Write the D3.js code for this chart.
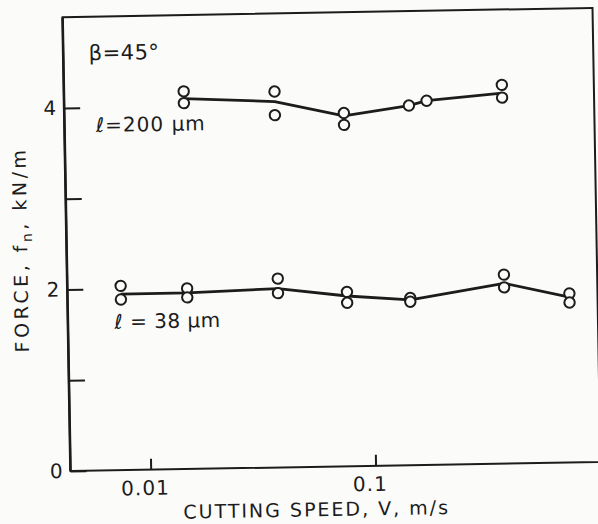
<!DOCTYPE html>
<html>
<head>
<meta charset="utf-8">
<script src="https://cdn.jsdelivr.net/npm/d3@7"></script>
<style>
  html, body { margin: 0; padding: 0; background: #fbfbfa; }
  svg { display: block; }
  text { font-family: "DejaVu Sans", sans-serif; fill: #1c1c1c; }
</style>
</head>
<body>
<svg id="chart" width="598" height="524"></svg>
<script>
// Cutting speed (m/s) and normal force (kN/m), tool rake angle beta = 45 deg
const speedsThick = [0.015, 0.038, 0.077, 0.15, 0.18, 0.39];      // l = 200 um
const forceThickA = [4.16, 4.14, 3.89, 3.96, 4.01, 4.17];
const forceThickB = [4.03, 3.88, 3.76, null, null, 4.03];
const trendThick  = [4.08, 4.03, 3.86, 3.96, 4.01, 4.08];

const speedsThin = [0.0076, 0.015, 0.038, 0.077, 0.147, 0.385, 0.75]; // l = 38 um
const forceThinA = [2.03, 1.99, 2.08, 1.92, 1.84, 2.08, 1.86];
const forceThinB = [1.88, 1.89, 1.92, 1.80, 1.80, 1.94, 1.76];
const trendThin  = [1.94, 1.94, 1.97, 1.875, 1.82, 1.985, 1.82];

const xTickValues = [0.01, 0.1];
const xTickLabels = ["0.01", "0.1"];
const yTickValues = [0, 1, 2, 3, 4];
const yTickLabels = ["0", "", "2", "", "4"];

const ink = "#1c1c1c";
const paper = "#fbfbfa";
const L = 66.5, T = 12.5, W = 530, H = 454;

const svg = d3.select("#chart");
// the whole sheet sits a little askew on the page
const g = svg.append("g")
  .attr("transform", `rotate(-1, ${L + W / 2}, ${T + H / 2})`);

const x = d3.scaleLog().domain([0.0044, 1]).range([L, L + W]);
const y = d3.scaleLinear().domain([0, 5]).range([T + H, T]);

// frame
g.append("rect")
  .attr("x", L).attr("y", T).attr("width", W).attr("height", H)
  .attr("fill", "none").attr("stroke", ink).attr("stroke-width", 2);
g.append("line")
  .attr("x1", L).attr("x2", L).attr("y1", T).attr("y2", T + H)
  .attr("stroke", ink).attr("stroke-width", 2.6);

// axes with inward ticks
const xAxis = d3.axisBottom(x)
  .tickValues(xTickValues)
  .tickFormat((d, i) => xTickLabels[i])
  .tickSizeInner(-11).tickSizeOuter(0).tickPadding(11);
const yAxis = d3.axisLeft(y)
  .tickValues(yTickValues)
  .tickFormat((d, i) => yTickLabels[i])
  .tickSizeInner(-16).tickSizeOuter(0).tickPadding(8);

const gx = g.append("g").attr("transform", `translate(0,${T + H})`).call(xAxis);
const gy = g.append("g").attr("transform", `translate(${L},0)`).call(yAxis);
[gx, gy].forEach(a => {
  a.select(".domain").remove();
  a.selectAll(".tick line").attr("stroke", ink).attr("stroke-width", 2);
  a.selectAll(".tick text").style("font-size", "20px").attr("fill", ink);
});
gx.selectAll(".tick text").attr("dx", -6).style("letter-spacing", "1px");

// axis titles
g.append("text")
  .attr("x", 312).attr("y", 516)
  .attr("text-anchor", "middle")
  .style("font-size", "19px").style("letter-spacing", "2px")
  .text("CUTTING SPEED, V, m/s");

const yt = g.append("text")
  .attr("transform", "translate(27,244) rotate(-90)")
  .attr("text-anchor", "middle")
  .style("font-size", "19px").style("letter-spacing", "3.5px");
yt.append("tspan").text("FORCE, f");
yt.append("tspan").attr("dy", 5).style("font-size", "14px").text("n");
yt.append("tspan").attr("dy", -5).text(", kN/m");

// annotations
g.append("text").attr("x", 92).attr("y", 56)
  .style("font-size", "21px").style("letter-spacing", "0.5px").text("\u03B2=45\u00B0");
g.append("text").attr("x", 98).attr("y", 128)
  .style("font-size", "20px").style("letter-spacing", "1px").text("\u2113=200 \u03BCm");
g.append("text").attr("x", 113).attr("y", 325)
  .style("font-size", "20px").style("letter-spacing", "0.5px").text("\u2113 = 38 \u03BCm");

// series
function drawSeries(speeds, fa, fb, trend) {
  const line = d3.line().x((d, i) => x(speeds[i])).y(d => y(d));
  g.append("path")
    .datum(trend)
    .attr("d", line)
    .attr("fill", "none").attr("stroke", ink).attr("stroke-width", 2.8)
    .attr("stroke-linejoin", "round");
  const pts = [];
  speeds.forEach((s, i) => {
    pts.push([s, fa[i]]);
    if (fb[i] != null) pts.push([s, fb[i]]);
  });
  g.append("g").selectAll("circle")
    .data(pts).join("circle")
    .attr("cx", d => x(d[0])).attr("cy", d => y(d[1]))
    .attr("r", 5.2)
    .attr("fill", paper).attr("stroke", ink).attr("stroke-width", 2);
}
drawSeries(speedsThick, forceThickA, forceThickB, trendThick);
drawSeries(speedsThin, forceThinA, forceThinB, trendThin);
</script>
</body>
</html>
